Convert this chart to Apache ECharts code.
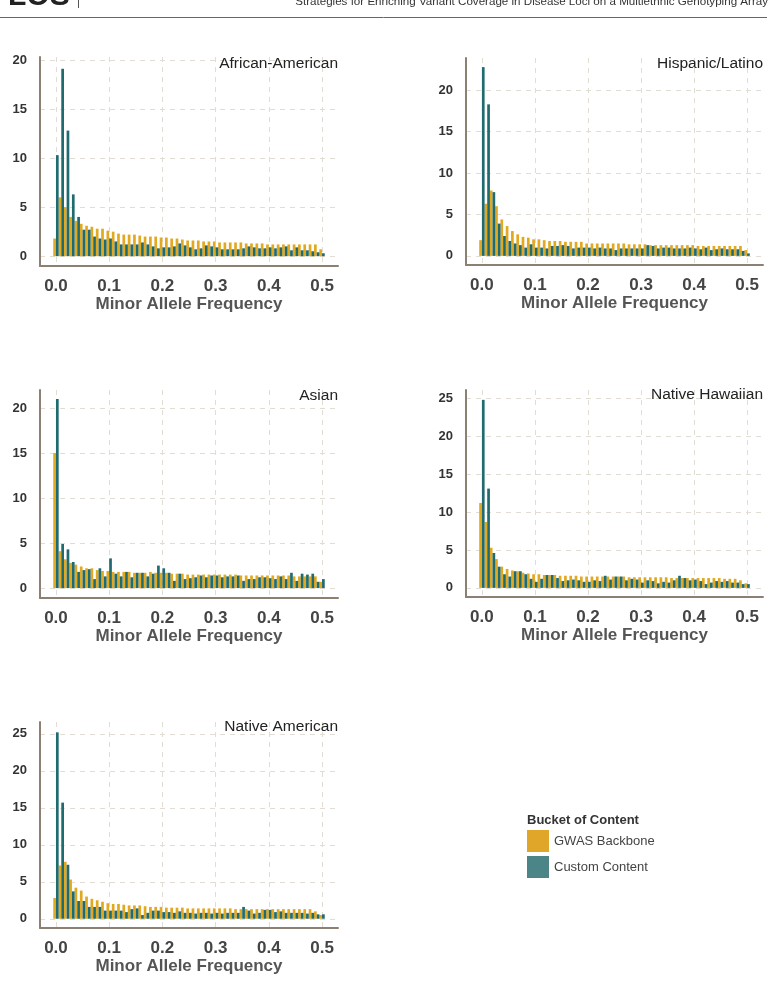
<!DOCTYPE html>
<html style="height: 100%">
<head>
    <meta charset="utf-8">
</head>
<body style="height: 100%; margin: 0; background: #fff">
<div id="container" style="width: 773px; height: 988px"></div>

<script type="text/javascript" src="https://cdn.jsdelivr.net/npm/echarts@6.0.0/dist/echarts.min.js"></script>
<script type="text/javascript">
    var dom = document.getElementById("container");
    var myChart = echarts.init(dom, null, {renderer: 'canvas'});

    // bins of minor allele frequency (width 0.01)
    var mafBins = [0.00, 0.01, 0.02, 0.03, 0.04, 0.05, 0.06, 0.07, 0.08, 0.09,
        0.10, 0.11, 0.12, 0.13, 0.14, 0.15, 0.16, 0.17, 0.18, 0.19,
        0.20, 0.21, 0.22, 0.23, 0.24, 0.25, 0.26, 0.27, 0.28, 0.29,
        0.30, 0.31, 0.32, 0.33, 0.34, 0.35, 0.36, 0.37, 0.38, 0.39,
        0.40, 0.41, 0.42, 0.43, 0.44, 0.45, 0.46, 0.47, 0.48, 0.49, 0.50];

    var panelNames = ['African-American', 'Hispanic/Latino', 'Asian', 'Native Hawaiian', 'Native American'];
    var seriesNames = ['GWAS Backbone', 'Custom Content'];

    var gwasAfricanAmerican = [1.8, 6.0, 5.0, 4.0, 3.6, 3.3, 3.1, 3.0, 2.8, 2.8, 2.6, 2.5, 2.3, 2.2, 2.2, 2.2, 2.1, 2.0, 2.0, 2.0,
        1.9, 1.9, 1.8, 1.8, 1.7, 1.6, 1.6, 1.6, 1.5, 1.5, 1.5, 1.4, 1.4, 1.4, 1.4, 1.4, 1.3, 1.3, 1.3, 1.3,
        1.2, 1.2, 1.2, 1.2, 1.2, 1.2, 1.2, 1.2, 1.2, 1.2, 0.7];
    var customAfricanAmerican = [10.3, 19.1, 12.8, 6.3, 4.0, 2.7, 2.7, 2.0, 1.8, 1.7, 1.8, 1.5, 1.2, 1.2, 1.2, 1.2, 1.4, 1.2, 1.0, 0.8,
        0.9, 0.9, 1.0, 1.3, 1.1, 0.9, 0.7, 0.8, 1.1, 1.0, 0.9, 0.7, 0.7, 0.7, 0.7, 0.8, 1.0, 0.9, 0.8, 0.8,
        0.9, 0.8, 0.9, 1.0, 0.6, 0.9, 0.6, 0.6, 0.5, 0.4, 0.3];

    var gwasHispanic = [1.9, 6.3, 7.9, 6.0, 4.4, 3.6, 3.0, 2.6, 2.3, 2.2, 2.0, 2.0, 1.9, 1.8, 1.8, 1.8, 1.7, 1.7, 1.7, 1.7,
        1.5, 1.5, 1.5, 1.5, 1.5, 1.5, 1.5, 1.5, 1.4, 1.4, 1.4, 1.4, 1.3, 1.3, 1.3, 1.3, 1.3, 1.3, 1.3, 1.3,
        1.3, 1.2, 1.2, 1.2, 1.2, 1.2, 1.2, 1.2, 1.2, 1.2, 0.7];
    var customHispanic = [22.8, 18.3, 7.7, 3.9, 2.4, 1.8, 1.5, 1.3, 1.0, 1.4, 1.0, 1.0, 0.9, 1.2, 1.2, 1.3, 1.2, 0.9, 1.0, 1.0,
        1.0, 0.9, 1.0, 0.9, 0.9, 0.7, 0.9, 0.9, 0.9, 0.9, 0.9, 1.3, 1.2, 0.9, 1.0, 1.0, 0.9, 0.9, 0.9, 1.0,
        0.9, 0.8, 1.0, 0.7, 0.8, 0.9, 0.8, 0.8, 0.8, 0.6, 0.3];

    var gwasAsian = [15.0, 4.1, 3.2, 2.8, 2.6, 2.4, 2.2, 2.2, 2.0, 1.9, 1.9, 1.8, 1.8, 1.8, 1.8, 1.7, 1.7, 1.7, 1.8, 1.7,
        1.7, 1.7, 1.6, 1.6, 1.6, 1.5, 1.5, 1.5, 1.5, 1.5, 1.5, 1.5, 1.5, 1.5, 1.5, 1.4, 1.4, 1.4, 1.4, 1.4,
        1.4, 1.4, 1.4, 1.4, 1.4, 1.3, 1.3, 1.3, 1.3, 1.3, 0.7];
    var customAsian = [21.0, 4.9, 4.3, 2.9, 1.8, 2.0, 2.1, 1.0, 2.2, 1.3, 3.3, 1.6, 1.3, 1.8, 1.2, 1.7, 1.7, 1.3, 1.6, 2.5,
        2.2, 1.7, 0.8, 1.6, 1.0, 1.1, 1.2, 1.4, 1.2, 1.4, 1.4, 1.2, 1.3, 1.3, 1.4, 0.8, 1.0, 1.0, 1.2, 1.2,
        1.1, 1.0, 1.3, 1.0, 1.7, 0.8, 1.6, 1.5, 1.6, 0.7, 1.0];

    var gwasHawaiian = [11.2, 8.7, 5.3, 3.8, 2.8, 2.5, 2.3, 2.2, 2.0, 1.9, 1.8, 1.8, 1.7, 1.7, 1.7, 1.6, 1.6, 1.6, 1.6, 1.5,
        1.5, 1.5, 1.5, 1.5, 1.5, 1.5, 1.5, 1.5, 1.4, 1.4, 1.4, 1.4, 1.4, 1.4, 1.4, 1.4, 1.3, 1.3, 1.3, 1.3,
        1.3, 1.3, 1.3, 1.3, 1.3, 1.3, 1.2, 1.2, 1.2, 1.0, 0.6];
    var customHawaiian = [24.8, 13.1, 4.6, 2.8, 1.8, 1.5, 2.2, 2.2, 1.8, 1.2, 0.8, 1.2, 1.7, 1.7, 1.3, 0.9, 1.0, 1.1, 1.0, 0.8,
        0.8, 1.0, 0.9, 1.6, 1.1, 1.5, 1.5, 1.0, 1.2, 1.1, 0.7, 1.0, 0.9, 0.6, 0.8, 0.7, 1.0, 1.6, 1.3, 1.0,
        1.1, 0.9, 0.5, 0.7, 0.9, 0.8, 0.9, 0.7, 0.7, 0.5, 0.5];

    var gwasNativeAmerican = [2.8, 7.2, 7.7, 5.3, 4.2, 3.8, 3.0, 2.7, 2.5, 2.3, 2.1, 2.0, 2.0, 1.9, 1.8, 1.8, 1.8, 1.7, 1.6, 1.6,
        1.6, 1.5, 1.5, 1.5, 1.5, 1.4, 1.4, 1.4, 1.4, 1.4, 1.4, 1.4, 1.4, 1.4, 1.3, 1.3, 1.3, 1.3, 1.3, 1.3,
        1.3, 1.3, 1.3, 1.3, 1.3, 1.3, 1.3, 1.3, 1.3, 1.0, 0.5];
    var customNativeAmerican = [25.2, 15.7, 7.3, 3.7, 2.4, 2.4, 1.6, 1.6, 1.6, 1.1, 1.1, 1.1, 1.1, 0.9, 1.3, 1.4, 0.5, 0.8, 1.1, 1.1,
        0.9, 0.9, 0.8, 1.0, 0.8, 0.8, 0.7, 0.8, 0.8, 0.7, 0.8, 0.7, 0.8, 0.8, 0.8, 1.6, 1.1, 0.7, 0.8, 1.2,
        1.2, 0.9, 1.0, 0.8, 0.8, 0.8, 0.8, 0.7, 0.8, 0.6, 0.6];

    var xTicks = [0, 0.1, 0.2, 0.3, 0.4, 0.5];
    var yTicks20 = [0, 5, 10, 15, 20];
    var yTicks25 = [0, 5, 10, 15, 20, 25];

    var gwasData = [gwasAfricanAmerican, gwasHispanic, gwasAsian, gwasHawaiian, gwasNativeAmerican];
    var customData = [customAfricanAmerican, customHispanic, customAsian, customHawaiian, customNativeAmerican];

    // panel boxes (plot area), y ranges
    var panels = [
        {left: 40, top: 57, width: 298, height: 209, yMin: -1.0, yMax: 20.3, yTicks: yTicks20, titleTop: 56, titleRight: 435},
        {left: 466, top: 58, width: 297, height: 207, yMin: -1.1, yMax: 23.9, yTicks: yTicks20, titleTop: 56, titleRight: 10},
        {left: 40, top: 390, width: 298, height: 208, yMin: -1.1, yMax: 22.0, yTicks: yTicks20, titleTop: 388, titleRight: 435},
        {left: 466, top: 390, width: 297, height: 207, yMin: -1.2, yMax: 26.1, yTicks: yTicks25, titleTop: 387, titleRight: 10},
        {left: 40, top: 722, width: 298, height: 206, yMin: -1.25, yMax: 26.6, yTicks: yTicks25, titleTop: 719, titleRight: 435}
    ];

    var font = 'Liberation Sans, Arial, Helvetica, sans-serif';
    var gold = '#E2A81F';
    var teal = '#1F6B6F';
    var axisColor = '#8c8073';
    var gridStyle = {color: '#e2ddd4', width: 1, type: [5, 5]};

    var grids = [], xAxes = [], yAxes = [], series = [], titles = [];

    panels.forEach(function (p, i) {
        grids.push({left: p.left, top: p.top, width: p.width, height: p.height, containLabel: false});
        xAxes.push({
            type: 'value',
            gridIndex: i,
            min: -0.03,
            max: 0.53,
            name: 'Minor Allele Frequency',
            nameLocation: 'middle',
            nameGap: 29,
            nameTextStyle: {fontFamily: font, fontSize: 17, fontWeight: 'bold', color: '#555'},
            axisLine: {show: true, onZero: false, lineStyle: {color: axisColor, width: 2}},
            axisTick: {show: false, customValues: xTicks},
            axisLabel: {
                customValues: xTicks,
                margin: 12,
                fontFamily: font,
                fontSize: 17,
                fontWeight: 'bold',
                color: '#444',
                formatter: function (v) { return v.toFixed(1); }
            },
            splitLine: {show: true, lineStyle: gridStyle}
        });
        yAxes.push({
            type: 'value',
            gridIndex: i,
            min: p.yMin,
            max: p.yMax,
            axisLine: {show: true, onZero: false, lineStyle: {color: axisColor, width: 2}},
            axisTick: {show: false, customValues: p.yTicks},
            axisLabel: {
                customValues: p.yTicks,
                margin: 13,
                fontFamily: font,
                fontSize: 13,
                fontWeight: 'bold',
                color: '#333'
            },
            splitLine: {show: true, lineStyle: gridStyle}
        });
        series.push({
            name: seriesNames[0],
            type: 'bar',
            xAxisIndex: i,
            yAxisIndex: i,
            barWidth: 2.7,
            barGap: '0%',
            itemStyle: {color: gold},
            emphasis: {disabled: true},
            data: mafBins.map(function (b, j) { return [b, gwasData[i][j]]; })
        });
        series.push({
            name: seriesNames[1],
            type: 'bar',
            xAxisIndex: i,
            yAxisIndex: i,
            barWidth: 2.7,
            barGap: '0%',
            itemStyle: {color: teal},
            emphasis: {disabled: true},
            data: mafBins.map(function (b, j) { return [b, customData[i][j]]; })
        });
        titles.push({
            text: panelNames[i],
            right: p.titleRight,
            top: p.titleTop,
            padding: 0,
            textStyle: {fontFamily: font, fontSize: 15.5, fontWeight: 'normal', color: '#222'}
        });
    });

    titles.push({
        text: 'Bucket of Content',
        left: 527,
        top: 814,
        padding: 0,
        textStyle: {fontFamily: font, fontSize: 13, fontWeight: 'bold', color: '#333'}
    });

    var option = {
        animation: false,
        backgroundColor: '#fff',
        title: titles,
        grid: grids,
        xAxis: xAxes,
        yAxis: yAxes,
        series: series,
        legend: {
            orient: 'vertical',
            left: 527,
            top: 830,
            padding: 0,
            itemWidth: 22,
            itemHeight: 22,
            itemGap: 4,
            icon: 'rect',
            selectedMode: false,
            textStyle: {fontFamily: font, fontSize: 13, color: '#444'},
            data: [
                {name: seriesNames[0], itemStyle: {color: '#E0A62A'}},
                {name: seriesNames[1], itemStyle: {color: '#4B8588'}}
            ]
        },
        graphic: [
            {type: 'text', left: -12, top: -18, style: {text: 'PLOS', font: 'bold 30px ' + font, fill: '#222'}},
            {type: 'line', shape: {x1: 78.5, y1: 0, x2: 78.5, y2: 8}, style: {stroke: '#555', lineWidth: 1}},
            {type: 'text', right: 5, top: -4, style: {text: 'Strategies for Enriching Variant Coverage in Disease Loci on a Multiethnic Genotyping Array', font: '11.6px ' + font, fill: '#333'}},
            {type: 'line', shape: {x1: 0, y1: 17.5, x2: 767, y2: 17.5}, style: {stroke: '#666', lineWidth: 1}}
        ]
    };

    if (option && typeof option === 'object') {
        myChart.setOption(option);
    }
</script>
</body>
</html>
